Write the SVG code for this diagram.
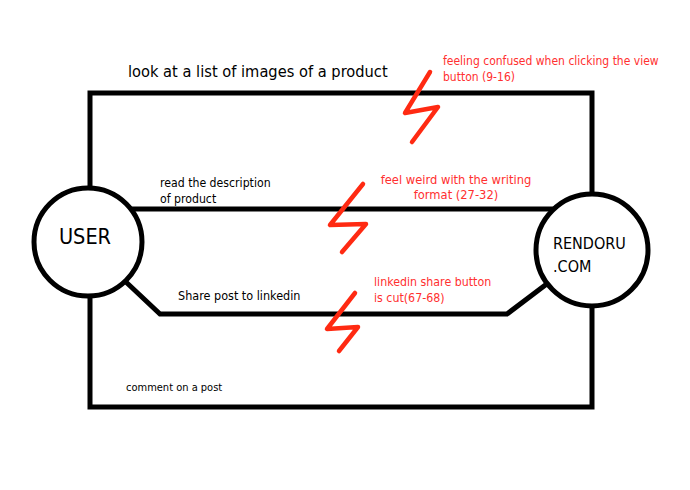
<svg xmlns="http://www.w3.org/2000/svg" width="690" height="490" viewBox="0 0 690 490">
<style>
.ln{fill:none;stroke:#000;stroke-width:5;stroke-linejoin:miter;stroke-linecap:square}
.bolt{fill:none;stroke:#ff2a12;stroke-width:4.5;stroke-linecap:round;stroke-linejoin:round}
.node{fill:#fff;stroke:#000;stroke-width:5}
.t{font-family:"Comic Sans MS","DejaVu Sans Condensed","DejaVu Sans",sans-serif;fill:#000}
.r{font-family:"Comic Sans MS","DejaVu Sans Condensed","DejaVu Sans",sans-serif;fill:#ff3030}
</style>
<rect width="690" height="490" fill="#fff"/>
<g id="connectors">
<path class="ln" d="M90,187 V93 H592 V193"/>
<path class="ln" d="M134,209 H555"/>
<path class="ln" d="M127,283 L160,314 H507 L548,283"/>
<path class="ln" d="M90,298 V407 H592 V308"/>
<text class="t" x="128" y="77" font-size="16.3">look at a list of images of a product</text>
<text class="t" x="160" y="187" font-size="12.2">read the description</text>
<text class="t" x="160" y="203" font-size="12.2">of product</text>
<text class="t" x="178" y="300" font-size="12.5">Share post to linkedin</text>
<text class="t" x="126" y="391" font-size="11">comment on a post</text>
</g>
<g id="pain1">
<path class="bolt" d="M430,72 L405,113 L438,107 L412,142"/>
<text class="r" x="443" y="65" font-size="12">feeling confused when clicking the view</text>
<text class="r" x="443" y="81" font-size="12">button (9-16)</text>
</g>
<g id="pain2">
<path class="bolt" d="M363,184 L330,225 L366,224 L342,252"/>
<text class="r" x="456" y="184" font-size="12.8" text-anchor="middle">feel weird with the writing</text>
<text class="r" x="456" y="199" font-size="12.8" text-anchor="middle">format (27-32)</text>
</g>
<g id="pain3">
<path class="bolt" d="M355,293 L327,329 L358,327 L339,351"/>
<text class="r" x="374" y="286" font-size="12.3">linkedin share button</text>
<text class="r" x="374" y="302" font-size="12.3">is cut(67-68)</text>
</g>
<g id="user">
<circle class="node" cx="88" cy="242" r="54"/>
<text class="t" x="85" y="244" font-size="21.5" text-anchor="middle">USER</text>
</g>
<g id="rendoru">
<circle class="node" cx="592" cy="250" r="56"/>
<text class="t" x="553" y="249" font-size="16">RENDORU</text>
<text class="t" x="553" y="272" font-size="16">.COM</text>
</g>
</svg>
